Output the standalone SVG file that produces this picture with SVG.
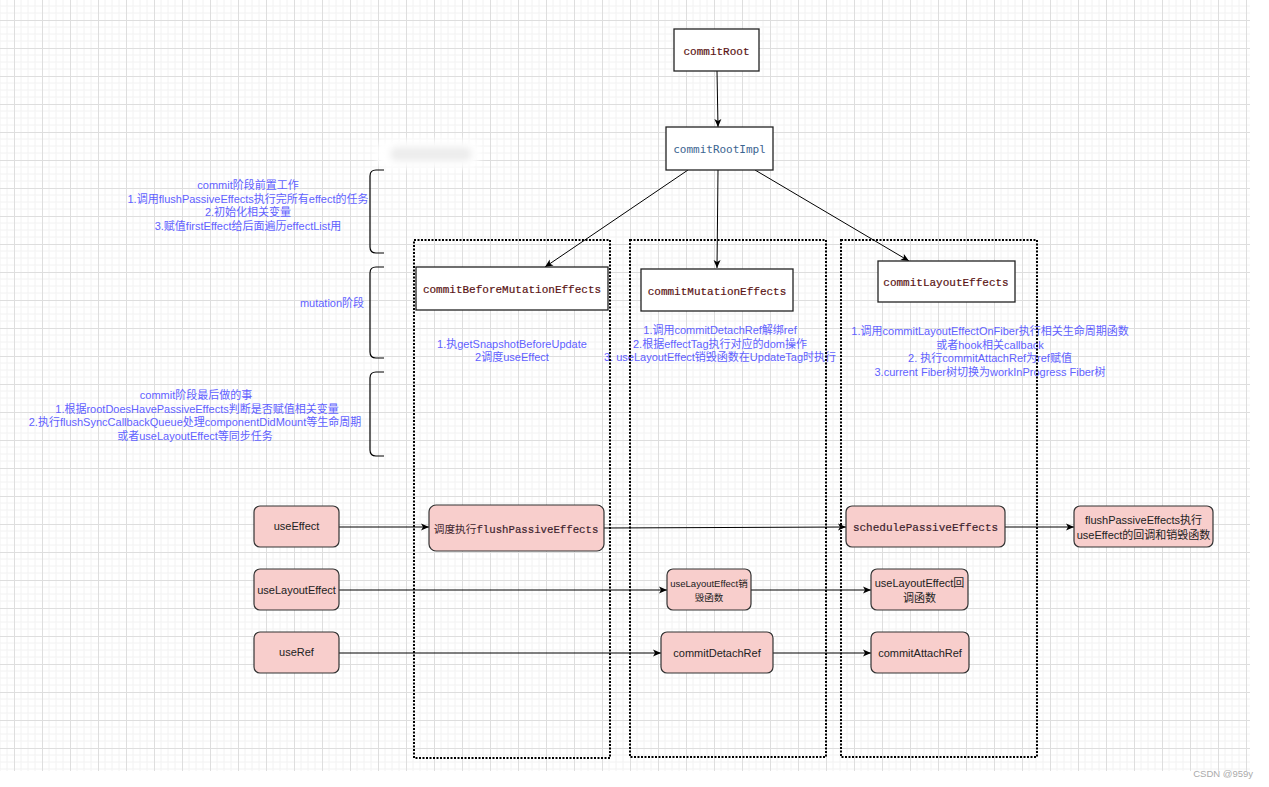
<svg xmlns="http://www.w3.org/2000/svg" width="1269" height="787" viewBox="0 0 1269 787">
<defs>
<pattern id="grid" patternUnits="userSpaceOnUse" x="14" y="20" width="28" height="28">
<path d="M7 0V28M14 0V28M21 0V28M0 7H28M0 14H28M0 21H28" stroke="#f2f2f2" stroke-width="1" fill="none"/>
<path d="M0.5 0V28M0 0.5H28" stroke="#dedede" stroke-width="1" fill="none"/>
</pattern>
<marker id="arr" markerUnits="userSpaceOnUse" markerWidth="10" markerHeight="10" viewBox="0 0 10 10" refX="9" refY="5" orient="auto">
<path d="M1 1.5L9 5L1 8.5L3 5Z" fill="#000"/>
</marker>
<filter id="blur" x="-30%" y="-80%" width="160%" height="260%"><feGaussianBlur stdDeviation="3.5"/></filter>
</defs>
<style>
.top{fill:#fff;stroke:#222;stroke-width:1.3}
.mono{font-family:"Liberation Mono","Courier New",monospace;font-size:11px;fill:#5a1414;stroke:#5a1414;stroke-width:0.2;text-anchor:middle}
.blue{font-family:"Liberation Sans","Noto Sans CJK SC",sans-serif;font-size:11px;fill:#6161ff;text-anchor:middle}
.pink{fill:#f8cecc;stroke:#333;stroke-width:1.2}
.pt{font-family:"Liberation Sans","Noto Sans CJK SC",sans-serif;font-size:11px;fill:#222;text-anchor:middle}
.dot{fill:none;stroke:#000;stroke-width:2;stroke-dasharray:2 1.5}
.brk{fill:none;stroke:#000;stroke-width:1.2}
.edge{fill:none;stroke:#000;stroke-width:1;marker-end:url(#arr)}
</style>
<rect x="0" y="0" width="1250" height="771" fill="url(#grid)"/>

<g id="smudge" filter="url(#blur)">
<rect x="376" y="140" width="104" height="28" rx="12" fill="#fff"/>
<rect x="390" y="147" width="82" height="14" rx="7" fill="#ececec"/>
</g>

<g id="brackets">
<path class="brk" d="M384 170H376Q370 170 370 176V247Q370 253 376 253H384"/>
<path class="brk" d="M384 267H376Q370 267 370 273V352Q370 358 376 358H384"/>
<path class="brk" d="M384 372H376Q370 372 370 378V450Q370 456 376 456H384"/>
</g>

<g id="note-pre">
<text class="blue" x="248" y="189">commit阶段前置工作</text>
<text class="blue" x="248" y="202.5">1.调用flushPassiveEffects执行完所有effect的任务</text>
<text class="blue" x="248" y="216">2.初始化相关变量</text>
<text class="blue" x="248" y="229.5">3.赋值firstEffect给后面遍历effectList用</text>
</g>
<g id="note-mutation">
<text class="blue" x="332" y="307">mutation阶段</text>
</g>
<g id="note-post">
<text class="blue" x="196" y="399">commit阶段最后做的事</text>
<text class="blue" x="197" y="412.5">1.根据rootDoesHavePassiveEffects判断是否赋值相关变量</text>
<text class="blue" x="195" y="426">2.执行flushSyncCallbackQueue处理componentDidMount等生命周期</text>
<text class="blue" x="195" y="439.5">或者useLayoutEffect等同步任务</text>
</g>

<g id="note-col1">
<text class="blue" x="512" y="348">1.执getSnapshotBeforeUpdate</text>
<text class="blue" x="512" y="361">2调度useEffect</text>
</g>
<g id="note-col2">
<text class="blue" x="720" y="334">1.调用commitDetachRef解绑ref</text>
<text class="blue" x="720" y="347.5">2.根据effectTag执行对应的dom操作</text>
<text class="blue" x="720" y="361">3. useLayoutEffect销毁函数在UpdateTag时执行</text>
</g>
<g id="note-col3">
<text class="blue" x="990" y="335">1.调用commitLayoutEffectOnFiber执行相关生命周期函数</text>
<text class="blue" x="990" y="348.5">或者hook相关callback</text>
<text class="blue" x="990" y="362">2. 执行commitAttachRef为ref赋值</text>
<text class="blue" x="990" y="375.5">3.current Fiber树切换为workInProgress Fiber树</text>
</g>

<g id="col-before"><rect class="dot" x="414" y="240" width="196" height="518"/></g>
<g id="col-mutation"><rect class="dot" x="630" y="240" width="196" height="517"/></g>
<g id="col-layout"><rect class="dot" x="841" y="240" width="196" height="517"/></g>

<g id="connectors">
<path class="edge" d="M717 71L718 127"/>
<path class="edge" d="M688 170L545 267"/>
<path class="edge" d="M718 170L717 268"/>
<path class="edge" d="M755 170L909 261"/>
<path class="edge" d="M339 527H429"/>
<path class="edge" d="M604 528L846 527"/>
<path class="edge" d="M1005 527H1074"/>
<path class="edge" d="M339 590H667"/>
<path class="edge" d="M751 590H871"/>
<path class="edge" d="M339 653H661"/>
<path class="edge" d="M773 653H871"/>
</g>

<g id="commitRoot">
<rect class="top" x="674" y="29" width="85" height="42"/>
<text class="mono" x="716.5" y="54.5">commitRoot</text>
</g>
<g id="commitRootImpl">
<rect class="top" x="666" y="127" width="107" height="43"/>
<text x="719.5" y="152.5" text-anchor="middle" font-family="'DejaVu Sans Mono',monospace" font-size="11" fill="#3c6591">commitRootImpl</text>
</g>
<g id="commitBeforeMutationEffects">
<rect class="top" x="416" y="267" width="192" height="43"/>
<text class="mono" x="512" y="293">commitBeforeMutationEffects</text>
</g>
<g id="commitMutationEffects">
<rect class="top" x="641" y="269" width="152" height="42"/>
<text class="mono" x="717" y="294.5">commitMutationEffects</text>
</g>
<g id="commitLayoutEffects">
<rect class="top" x="878" y="261" width="137" height="41"/>
<text class="mono" x="946" y="286">commitLayoutEffects</text>
</g>

<g id="useEffect">
<rect class="pink" x="254" y="506" width="85" height="41" rx="6"/>
<text class="pt" x="296.5" y="530">useEffect</text>
</g>
<g id="useLayoutEffect">
<rect class="pink" x="254" y="569" width="85" height="41" rx="6"/>
<text class="pt" x="296.5" y="593.5">useLayoutEffect</text>
</g>
<g id="useRef">
<rect class="pink" x="254" y="632" width="85" height="41" rx="6"/>
<text class="pt" x="296.5" y="656">useRef</text>
</g>
<g id="scheduleFlush">
<rect class="pink" x="429" y="505" width="175" height="46" rx="7"/>
<text x="516" y="533" text-anchor="middle" font-size="10.7" fill="#3d1f2e"><tspan font-family="'Liberation Sans','Noto Sans CJK SC',sans-serif">调度执行</tspan><tspan font-family="'Liberation Mono',monospace" stroke="#3d1f2e" stroke-width="0.2">flushPassiveEffects</tspan></text>
</g>
<g id="schedulePassiveEffects">
<rect class="pink" x="846" y="506" width="159" height="41" rx="6"/>
<text class="mono" x="925.5" y="531" style="fill:#3d1f2e;stroke:#3d1f2e">schedulePassiveEffects</text>
</g>
<g id="flushPassiveEffects">
<rect class="pink" x="1074" y="506" width="139" height="41" rx="6"/>
<text class="pt" x="1143.5" y="524">flushPassiveEffects执行</text>
<text class="pt" x="1143.5" y="538.5">useEffect的回调和销毁函数</text>
</g>
<g id="layoutDestroy">
<rect class="pink" x="667" y="569" width="84" height="41" rx="6"/>
<text class="pt" x="709" y="587" style="font-size:9.5px">useLayoutEffect销</text>
<text class="pt" x="709" y="601" style="font-size:9.5px">毁函数</text>
</g>
<g id="layoutCallback">
<rect class="pink" x="871" y="569" width="97" height="41" rx="6"/>
<text class="pt" x="919.5" y="587">useLayoutEffect回</text>
<text class="pt" x="919.5" y="601.5">调函数</text>
</g>
<g id="commitDetachRef">
<rect class="pink" x="661" y="632" width="112" height="41" rx="6"/>
<text class="pt" x="717" y="656.5">commitDetachRef</text>
</g>
<g id="commitAttachRef">
<rect class="pink" x="871" y="632" width="98" height="41" rx="6"/>
<text class="pt" x="920" y="656.5">commitAttachRef</text>
</g>

<text x="1253" y="777" text-anchor="end" font-family="'Liberation Sans',sans-serif" font-size="9.5" fill="#aaa">CSDN @959y</text>
</svg>
